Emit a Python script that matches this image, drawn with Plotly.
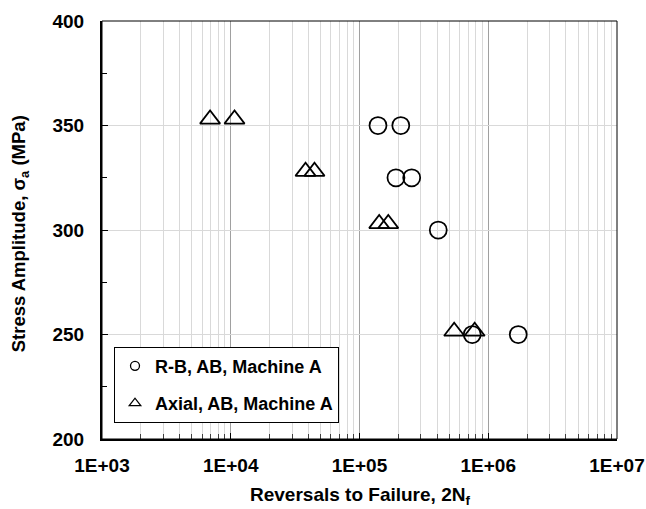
import plotly.graph_objects as go

# Rotating-bending specimens, as-built, machine A
rb_reversals = [139200, 209300, 192000, 254300, 409000, 751000, 1710000]
rb_stress = [350, 350, 325, 325, 300, 250, 250]

# Axial specimens, as-built, machine A
ax_reversals = [6910, 10700, 38100, 44700, 142200, 167300, 543600, 784300]
ax_stress = [353, 353, 328, 328, 303, 303, 251.5, 251.5]

x_major = [1e3, 1e4, 1e5, 1e6, 1e7]
x_major_text = ["1E+03", "1E+04", "1E+05", "1E+06", "1E+07"]
x_minor = [m * 10 ** k for k in range(3, 7) for m in range(2, 10)]
y_major = [200, 250, 300, 350, 400]

x_title = "Reversals to Failure, 2N<sub>f</sub>"
y_title = "Stress Amplitude, σ<sub>a</sub> (MPa)"

FONT = "Arial, Liberation Sans, sans-serif"

fig = go.Figure()

# data points (legend handled by the small key markers below)
fig.add_trace(go.Scatter(
    x=rb_reversals, y=rb_stress, mode="markers", showlegend=False,
    marker=dict(symbol="circle-open", size=17, color="black",
                line=dict(width=1.75, color="black")),
))
fig.add_trace(go.Scatter(
    x=ax_reversals, y=ax_stress, mode="markers", showlegend=False,
    marker=dict(symbol="triangle-up-open", size=17.5, color="black",
                line=dict(width=1.75, color="black")),
))

# legend keys
fig.add_trace(go.Scatter(
    x=[None], y=[None], mode="markers", name="R-B, AB, Machine A",
    legendgroup="rb",
    marker=dict(symbol="circle-open", size=9, color="black",
                line=dict(width=1.3, color="black")),
))
fig.add_trace(go.Scatter(
    x=[None], y=[None], mode="markers", name="Axial, AB, Machine A",
    legendgroup="ax",
    marker=dict(symbol="triangle-up-open", size=10, color="black",
                line=dict(width=1.3, color="black")),
))

fig.update_layout(
    width=646, height=509,
    margin=dict(l=102, r=29, t=21, b=70, autoexpand=False),
    paper_bgcolor="white", plot_bgcolor="white",
    font=dict(family=FONT, size=19, color="black"),
    showlegend=True,
    legend=dict(
        x=0.0233, y=0.221, xanchor="left", yanchor="top",
        bgcolor="white", bordercolor="black", borderwidth=1,
        font=dict(family=FONT, size=18, color="black", weight="bold"),
        tracegroupgap=11, itemsizing="trace",
    ),
    xaxis=dict(
        type="log", range=[3, 7], automargin=False,
        tickmode="array", tickvals=x_major, ticktext=x_major_text,
        tickfont=dict(family=FONT, size=19, weight="bold"),
        showgrid=True, gridcolor="#a0a0a0", gridwidth=1,
        ticks="inside", ticklen=6, tickcolor="black", tickwidth=1,
        ticklabelstandoff=8,
        showline=True, linecolor="black", linewidth=2,
        zeroline=False,
        minor=dict(tickmode="array", tickvals=x_minor, showgrid=True,
                   gridcolor="#d9d9d9", gridwidth=1,
                   ticks="inside", ticklen=5, tickcolor="#404040"),
    ),
    yaxis=dict(
        range=[200, 400], automargin=False,
        tickmode="array", tickvals=y_major,
        tickfont=dict(family=FONT, size=19, weight="bold"),
        showgrid=True, gridcolor="#d9d9d9", gridwidth=1,
        ticks="inside", ticklen=6, tickcolor="black", tickwidth=1,
        ticklabelstandoff=12,
        showline=True, linecolor="black", linewidth=2,
        zeroline=False,
        minor=dict(dtick=25, ticks="inside", ticklen=5, tickcolor="black",
                   showgrid=False),
    ),
    annotations=[
        dict(text=x_title, xref="paper", yref="paper", x=0.5, y=-0.136,
             xanchor="center", yanchor="middle", showarrow=False,
             font=dict(family=FONT, size=19, weight="bold")),
        dict(text=y_title, xref="paper", yref="paper", x=-0.159, y=0.49,
             xanchor="center", yanchor="middle", showarrow=False, textangle=-90,
             font=dict(family=FONT, size=18.5, weight="bold")),
    ],
    shapes=[dict(type="rect", xref="paper", yref="paper", x0=0, y0=0, x1=1, y1=1,
                 line=dict(color="black", width=1), layer="above")],
)

fig.write_html("out.html")
